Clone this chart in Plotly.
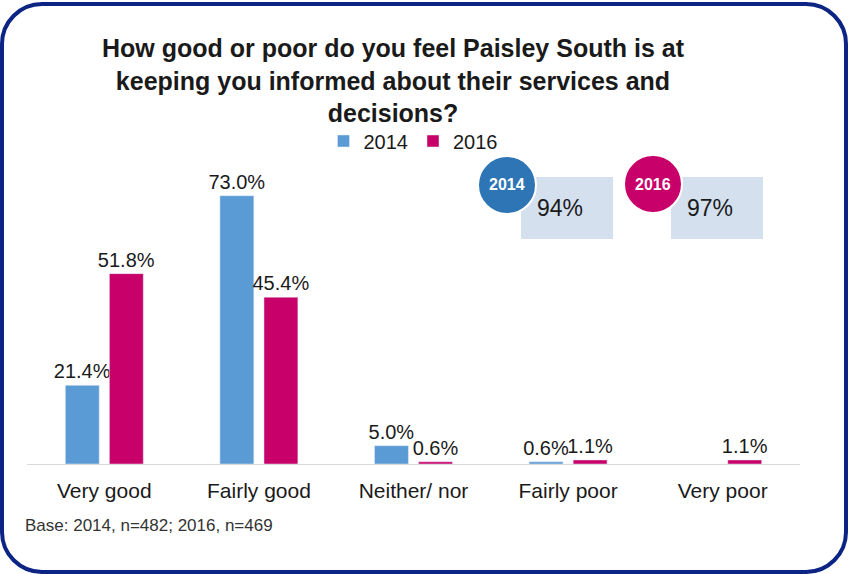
import plotly.graph_objects as go

categories = ["Very good", "Fairly good", "Neither/ nor", "Fairly poor", "Very poor"]
values_2014 = [21.4, 73.0, 5.0, 0.6, None]
values_2016 = [51.8, 45.4, 0.6, 1.1, 1.1]
series_names = ["2014", "2016"]
callout_years = ["2014", "2016"]
callout_values = ["94%", "97%"]
title_text = ("How good or poor do you feel Paisley South is at<br>"
              "keeping you informed about their services and<br>decisions?")
base_note = "Base: 2014, n=482; 2016, n=469"

W, H = 854, 574
ML, MR, MT, MB = 27, 54, 170, 110
PW, PH = W - ML - MR, H - MT - MB
BASE_Y = H - MB

def px_x(x):
    return (x - ML) / PW

def px_y(y):
    return (BASE_Y - y) / PH

FONT = "Arial, 'Liberation Sans', sans-serif"
BLUE = "#5b9bd5"
MAGENTA = "#c8006a"
TXT = "#1a1a1a"

fig = go.Figure()
for vals, name, col in [(values_2014, series_names[0], BLUE), (values_2016, series_names[1], MAGENTA)]:
    fig.add_trace(go.Bar(
        x=categories, y=vals, name=name, marker_color=col,
        texttemplate="%{y:.1f}%", textposition="outside", cliponaxis=False,
        constraintext="none",
        textfont=dict(size=20, color=TXT, family=FONT)))

shapes = []
# rounded border
x0, x1, y0, y1, r = 2, 846, 4, 572, 40
k = 0.5523 * r
def P(x, y):
    return f"{px_x(x):.5f},{px_y(y):.5f}"
path = (f"M {P(x0 + r, y0)} L {P(x1 - r, y0)} "
        f"C {P(x1 - r + k, y0)} {P(x1, y0 + r - k)} {P(x1, y0 + r)} "
        f"L {P(x1, y1 - r)} "
        f"C {P(x1, y1 - r + k)} {P(x1 - r + k, y1)} {P(x1 - r, y1)} "
        f"L {P(x0 + r, y1)} "
        f"C {P(x0 + r - k, y1)} {P(x0, y1 - r + k)} {P(x0, y1 - r)} "
        f"L {P(x0, y0 + r)} "
        f"C {P(x0, y0 + r - k)} {P(x0 + r - k, y0)} {P(x0 + r, y0)} Z")
shapes.append(dict(type="path", xref="paper", yref="paper", path=path,
                   line=dict(color="#0c2483", width=4), layer="above"))

# callouts
rects = [(521, 177, 613, 239), (671, 177, 763, 239)]
circles = [(507, 185, 29, "#2e75b6"), (653, 184, 29, MAGENTA)]
annotations = []
for (rx0, ry0, rx1, ry1), (cx, cy, cr, cc), yr, val in zip(rects, circles, callout_years, callout_values):
    shapes.append(dict(type="rect", xref="paper", yref="paper",
                       x0=px_x(rx0), x1=px_x(rx1), y0=px_y(ry1), y1=px_y(ry0),
                       fillcolor="#d5e0ef", line=dict(width=0), layer="above"))
    shapes.append(dict(type="circle", xref="paper", yref="paper",
                       x0=px_x(cx - cr), x1=px_x(cx + cr), y0=px_y(cy + cr), y1=px_y(cy - cr),
                       fillcolor=cc, line=dict(color="white", width=2), layer="above"))
    annotations.append(dict(x=px_x(cx), y=px_y(cy), xref="paper", yref="paper",
                            xanchor="center", yanchor="middle",
                            text=f"<b>{yr}</b>", showarrow=False,
                            font=dict(size=16, color="white", family=FONT)))
    annotations.append(dict(x=px_x((rx0 + rx1) / 2 - 7), y=px_y(208), xref="paper", yref="paper",
                            xanchor="center", yanchor="middle",
                            text=val, showarrow=False,
                            font=dict(size=23, color=TXT, family=FONT)))

annotations.append(dict(x=px_x(23), y=px_y(525), xref="paper", yref="paper",
                        xanchor="left", yanchor="middle", text=base_note, showarrow=False,
                        font=dict(size=17, color="#333333", family=FONT)))

fig.update_layout(
    width=W, height=H,
    margin=dict(l=ML, r=MR, t=MT, b=MB),
    paper_bgcolor="white", plot_bgcolor="white",
    title=dict(text=f"<b>{title_text}</b>", x=393 / W, xanchor="center",
               y=1 - 57 / H, yanchor="middle", yref="container",
               font=dict(size=25, color=TXT, family=FONT)),
    barmode="group", bargap=0.43, bargroupgap=0.23,
    legend=dict(orientation="h", x=px_x(413), xanchor="center", y=px_y(141), yanchor="middle",
                font=dict(size=20, color=TXT, family=FONT), itemwidth=30,
                bgcolor="rgba(0,0,0,0)"),
    xaxis=dict(showline=True, linecolor="#d9d9d9", linewidth=1, ticks="",
               tickfont=dict(size=21, color=TXT, family=FONT), ticklabelstandoff=8,
               showgrid=False),
    yaxis=dict(range=[0, 80], visible=False, showgrid=False, zeroline=False),
    shapes=shapes, annotations=annotations,
)

fig.write_html("out.html")
